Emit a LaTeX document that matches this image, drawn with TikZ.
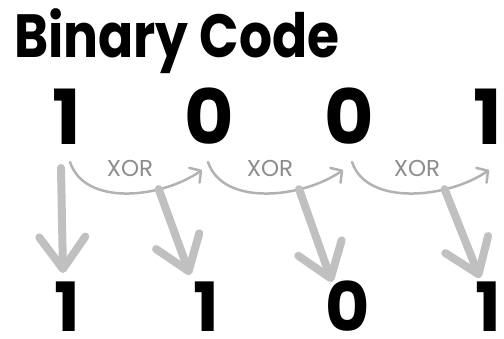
\documentclass[tikz,border=0pt]{standalone}
\usepackage{fontspec}
\setmainfont{Poppins}
\usetikzlibrary{arrows.meta}
\definecolor{arrowGray}{RGB}{192, 192, 192}
\definecolor{curveGray}{RGB}{178, 178, 178}
\definecolor{labelGray}{RGB}{140, 140, 140}

\begin{document}
\begin{tikzpicture}[x=1pt, y=-1pt,
    bit/.style={inner sep=0pt, anchor=base, font=\bfseries\fontsize{76}{76}\selectfont},
    outbit/.style={inner sep=0pt, anchor=base, font=\bfseries\fontsize{68}{68}\selectfont},
    xorlabel/.style={inner sep=0pt, text=labelGray, font=\fontsize{23}{23}\selectfont},
    xorcurve/.style={curveGray, line width=2.5pt, line cap=round,
      -{Straight Barb[round, length=8pt, width=18pt]}},
    bigarrow/.style={arrowGray, line width=8pt, line cap=round,
      -{Straight Barb[round, length=32pt, width=46pt]}}]
        \useasboundingbox (0,0) rectangle (504,339);
        \node[inner sep=0pt, anchor=base west, xscale=0.85, transform shape, font=\bfseries\fontsize{61}{61}\selectfont] (title) at (14,58) {Binary Code};
        % input bits
        \node[bit] (t1) at (67,145) {1};
        \node[bit] (t2) at (209,145) {0};
        \node[bit] (t3) at (349,145) {0};
        \node[bit] (t4) at (488,145) {1};
        % output bits
        \node[outbit] (b1) at (67,332) {1};
        \node[outbit] (b2) at (206,332) {1};
        \node[outbit] (b3) at (348,332) {0};
        \node[outbit] (b4) at (488,332) {1};
        % xor steps
        \node[xorlabel] (x1) at (130,168) {XOR};
        \node[xorlabel] (x2) at (270,168) {XOR};
        \node[xorlabel] (x3) at (417,168) {XOR};
        \draw[xorcurve] ([shift={(3,17)}]t1.base) .. controls +(15,45) and +(-40,28) .. ([shift={(-7,25)}]t2.base) coordinate[pos=0.7] (m1);
        \draw[xorcurve] ([shift={(-1,17)}]t2.base) .. controls +(15,45) and +(-40,28) .. ([shift={(-6,25)}]t3.base) coordinate[pos=0.7] (m2);
        \draw[xorcurve] ([shift={(3,17)}]t3.base) .. controls +(15,45) and +(-40,28) .. ([shift={(1,25)}]t4.base) coordinate[pos=0.7] (m3);
        % results
        \draw[bigarrow] ([shift={(-6,23)}]t1.base) -- ([shift={(-4,-59)}]b1.base);
        \draw[bigarrow] (m1) -- ([shift={(-16,-57)}]b2.base);
        \draw[bigarrow] (m2) -- ([shift={(-16,-50)}]b3.base);
        \draw[bigarrow] (m3) -- ([shift={(-8,-54)}]b4.base);
      \end{tikzpicture}
\end{document}
